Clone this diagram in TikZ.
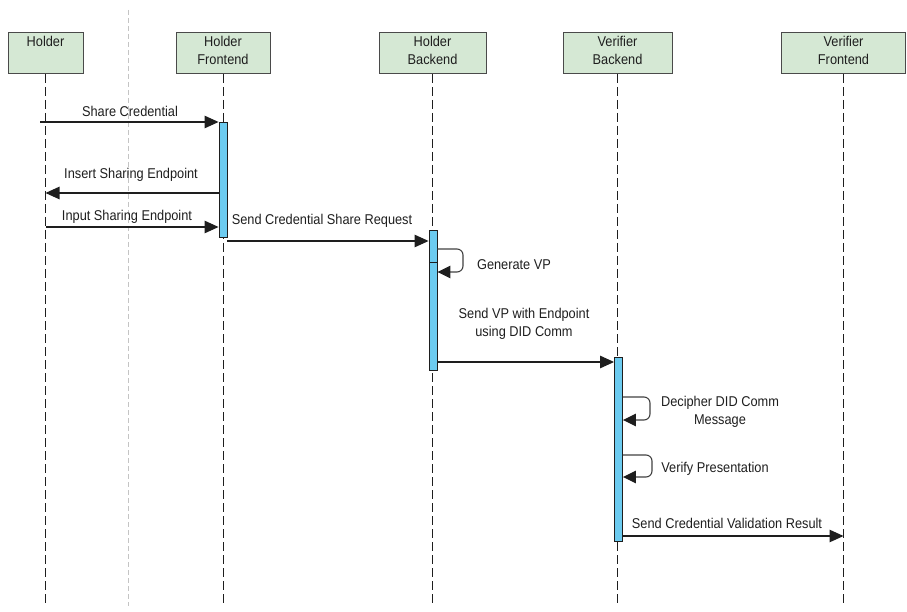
\documentclass[tikz,border=0pt]{standalone}
\usepackage{fontspec}
\setmainfont{Liberation Sans}[FakeStretch=0.9]
\usetikzlibrary{arrows.meta}
\definecolor{actorfill}{HTML}{D5E8D4}
\definecolor{actorline}{HTML}{4A4A4A}
\definecolor{barfill}{HTML}{6CCBF0}
\definecolor{guide}{HTML}{C4C4C4}
\definecolor{ink}{HTML}{1E1E1E}
\begin{document}
\begin{tikzpicture}[x=1pt,y=-1pt,
  font=\fontsize{14.2}{18}\selectfont,
  actor/.style={draw=actorline, fill=actorfill, line width=1pt,
    minimum width=#1, minimum height=41pt, inner sep=0pt, anchor=north},
  actortext/.style={anchor=north, align=center, inner sep=0pt, yshift=-4pt, text=ink},
  lifeline/.style={draw=ink, line width=0.9pt, dash pattern=on 9pt off 4pt},
  guideline/.style={draw=guide, line width=0.8pt, dash pattern=on 5pt off 3pt},
  actbar/.style={draw=ink, fill=barfill, line width=0.9pt, minimum width=8pt,
    minimum height=#1, inner sep=0pt, anchor=north},
  msg/.style={draw=ink, line width=1.1pt, -{Triangle[length=14pt,width=12.5pt]}},
  selfmsg/.style={draw=ink!85, line width=1.1pt, rounded corners=6pt,
    -{Triangle[length=13pt,width=12.5pt,color=ink]}},
  msglabel/.style={align=center, inner sep=0pt, text=ink}
]
\useasboundingbox (0,0) rectangle (907,612);

% participants
\node[actor=75pt]  (holder) at (45.5,32) {};
\node[actor=94pt]  (hfront) at (223,32) {};
\node[actor=107pt] (hback)  at (432.5,32) {};
\node[actor=109pt] (vback)  at (617.5,32) {};
\node[actor=124pt] (vfront) at (843.5,32) {};
\node[actortext] (tholder) at (holder.north) {Holder};
\node[actortext] (thfront) at (hfront.north) {Holder\\Frontend};
\node[actortext] (thback)  at (hback.north)  {Holder\\Backend};
\node[actortext] (tvback)  at (vback.north)  {Verifier\\Backend};
\node[actortext] (tvfront) at (vfront.north) {Verifier\\Frontend};

% lifeline ends
\coordinate (holderend) at (45.5,606);
\coordinate (hfrontend) at (223,606);
\coordinate (hbackend)  at (432.5,606);
\coordinate (vbackend)  at (617.5,606);
\coordinate (vfrontend) at (843.5,606);
\coordinate (guidetop) at (128.5,10);
\coordinate (guidebot) at (128.5,606);

\draw[guideline] (guidetop) -- (guidebot);
\draw[lifeline] (holder.south) -- (holderend);
\draw[lifeline] (hfront.south) -- (hfrontend);
\draw[lifeline] (hback.south)  -- (hbackend);
\draw[lifeline] (vback.south)  -- (vbackend);
\draw[lifeline] (vfront.south) -- (vfrontend);

% activation bars
\node[actbar=115pt] (hfbar)  at (223,122) {};
\node[actbar=32pt]  (hbbar1) at (433,230) {};
\node[actbar=108pt] (hbbar2) at (433,262) {};
\node[actbar=184pt] (vbbar)  at (618.5,357) {};

% message anchor points
\coordinate (m1) at (40,122);
\coordinate (m2) at (45.5,193);
\coordinate (m3) at (45.5,227);
\coordinate (m4) at (227,241);
\coordinate (g1) at (463,249);
\coordinate (g2) at (463,272);
\coordinate (m6) at (437,362);
\coordinate (d1) at (650,397);
\coordinate (d2) at (650,420);
\coordinate (v1) at (652,455);
\coordinate (v2) at (652,477);
\coordinate (m9) at (622.5,536);

% messages
\draw[msg] (m1) -- (hfbar.west |- m1);
\node[msglabel] (l1) at (130,111) {Share Credential};

\draw[msg] (hfbar.west |- m2) -- (m2);
\node[msglabel] (l2) at (131,175) {Insert Sharing Endpoint};

\draw[msg] (m3) -- (hfbar.west |- m3);
\node[msglabel] (l3) at (127,217) {Input Sharing Endpoint};

\draw[msg] (m4) -- (hbbar1.west |- m4);
\node[msglabel] (l4) at (322,221) {Send Credential Share Request};

\draw[selfmsg] (hbbar1.east |- g1) -- (g1) -- (g2) -- (hbbar2.east |- g2);
\node[msglabel] (l5) at (514,265) {Generate VP};

\draw[msg] (m6) -- (vbbar.west |- m6);
\node[msglabel] (l6) at (524,324) {Send VP with Endpoint\\using DID Comm};

\draw[selfmsg] (vbbar.east |- d1) -- (d1) -- (d2) -- (vbbar.east |- d2);
\node[msglabel] (l7) at (720,412) {Decipher DID Comm\\Message};

\draw[selfmsg] (vbbar.east |- v1) -- (v1) -- (v2) -- (vbbar.east |- v2);
\node[msglabel] (l8) at (715,469) {Verify Presentation};

\draw[msg] (m9) -- (vfront.south |- m9);
\node[msglabel] (l9) at (727,523) {Send Credential Validation Result};
\end{tikzpicture}
\end{document}
